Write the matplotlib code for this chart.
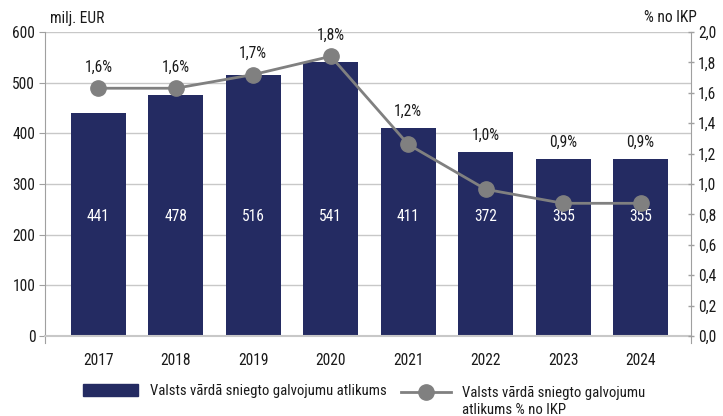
import matplotlib
matplotlib.use("Agg")
import matplotlib.pyplot as plt
from matplotlib.font_manager import fontManager
from matplotlib.lines import Line2D
from matplotlib.patches import Patch

years = ["2017", "2018", "2019", "2020", "2021", "2022", "2023", "2024"]
amounts = [441, 476, 516, 541, 411, 363, 349, 349]
amount_labels = ["441", "478", "516", "541", "411", "372", "355", "355"]
pct = [1.63, 1.63, 1.72, 1.84, 1.26, 0.965, 0.873, 0.873]
pct_labels = ["1,6%", "1,6%", "1,7%", "1,8%", "1,2%", "1,0%", "0,9%", "0,9%"]
left_ticks = [0, 100, 200, 300, 400, 500, 600]
right_ticks = [0.0, 0.2, 0.4, 0.6, 0.8, 1.0, 1.2, 1.4, 1.6, 1.8, 2.0]
legend_bar = "Valsts vārdā sniegto galvojumu atlikums"
legend_line = ["Valsts vārdā sniegto galvojumu", "atlikums % no IKP"]

# pick a condensed font if available
cands = []
for f in fontManager.ttflist:
    st = str(f.stretch).lower()
    nm = f.name
    if f.style != "normal" or f.weight not in (400, "normal", "regular"):
        continue
    if "condensed" in st or "Condensed" in nm or "Narrow" in nm:
        cands.append((nm, f.stretch))
pref = ["Roboto Condensed", "Liberation Sans Narrow", "Open Sans Condensed", "DejaVu Sans"]
chosen = None
for p in pref:
    for nm, st in cands:
        if nm == p:
            chosen = (nm, st)
            break
    if chosen:
        break
if chosen is None and cands:
    chosen = cands[0]
if chosen:
    plt.rcParams['font.family'] = [chosen[0], "DejaVu Sans"]
    plt.rcParams['font.stretch'] = chosen[1]
    FS = 11.2
    LFS = 10.6
else:
    plt.rcParams['font.family'] = ["Roboto", "DejaVu Sans"]
    FS = 10
    LFS = 9.5

NAVY = "#242B62"
GRAY = "#808080"
GRID = "#C8C8C8"
TXT = "#1A1A1A"

fig = plt.figure(figsize=(7.23, 4.16), dpi=100)
ax = fig.add_axes([45/723, 1-336/416, (691-45)/723, (336-32)/416])
ax2 = ax.twinx()

x = list(range(len(years)))
ax.bar(x, amounts, width=0.71, color=NAVY, zorder=2)
ax.set_ylim(0, 600)
ax.set_xlim(-0.69, 7.65)
ax.set_yticks(left_ticks)
ax.set_yticklabels([str(t) for t in left_ticks], fontsize=FS, color=TXT)
ax.set_xticks(x)
ax.set_xticklabels(years, fontsize=FS, color=TXT)
ax.grid(axis='y', color=GRID, linewidth=1, zorder=0)
ax.set_axisbelow(True)
for s in ["top", "right"]:
    ax.spines[s].set_visible(False)
ax.spines["left"].set_color("#A0A0A0")
ax.spines["left"].set_bounds(-14, 600)
ax.spines["bottom"].set_color(GRID)
ax.spines["bottom"].set_linewidth(1.5)
ax.tick_params(axis='y', length=4, color="#A0A0A0", pad=3)
ax.tick_params(axis='x', length=0, pad=12)

for xi, lab in zip(x, amount_labels):
    ax.text(xi, 235, lab, color="white", ha="center", va="center", fontsize=FS, zorder=3)

ax2.plot(x, pct, color=GRAY, linewidth=2, marker="o", markersize=11, zorder=4)
ax2.set_ylim(0, 2.0)
ax2.set_yticks(right_ticks)
ax2.set_yticklabels([f"{t:.1f}".replace(".", ",") for t in right_ticks], fontsize=FS, color=TXT)
for s in ["top", "left", "bottom"]:
    ax2.spines[s].set_visible(False)
ax2.spines["right"].set_color("#A0A0A0")
ax2.spines["right"].set_bounds(-0.047, 2.0)
ax2.tick_params(axis='y', length=4, color="#A0A0A0", pad=3, direction="inout", width=1)

scale = 2.0 / 600
for xi, v, a, lab in zip(x, pct, amounts, pct_labels):
    bar_top = a * scale
    if v + 0.03 >= bar_top:
        anchor, off = v, 15
    else:
        anchor, off = bar_top, 12
    ax2.annotate(lab, (xi, anchor), xytext=(0, off), textcoords="offset points",
                 ha="center", va="center", fontsize=FS, color=TXT)

fig.text(50/723, 1-18/416, "milj. EUR", ha="left", va="center", fontsize=FS, color=TXT)
fig.text(697/723, 1-18/416, "% no IKP", ha="right", va="center", fontsize=FS, color=TXT)

fsu = LFS * 100 / 72.0  # px per font-size unit
h1 = Patch(color=NAVY)
h2 = Line2D([0], [0], color=GRAY, linewidth=2, marker="o", markersize=11)
fig.legend([h1], [legend_bar], loc="center left",
           bbox_to_anchor=(83/723, 1-391/416), frameon=False, fontsize=LFS,
           borderpad=0, borderaxespad=0,
           handlelength=55/fsu, handleheight=0.85, handletextpad=12/fsu, labelcolor=TXT)
leg2 = fig.legend([h2], [legend_line[0]], loc="center left",
           bbox_to_anchor=(401/723, 1-393/416), frameon=False, fontsize=LFS,
           borderpad=0, borderaxespad=0,
           handlelength=50/fsu, handletextpad=11/fsu, labelcolor=TXT)
fig.canvas.draw()
bb = leg2.get_texts()[0].get_window_extent()
fig.text(bb.x0/fig.bbox.width, 1-410/416, legend_line[1], ha="left", va="center",
         fontsize=LFS, color=TXT)

fig.savefig("out.png", dpi=100)
